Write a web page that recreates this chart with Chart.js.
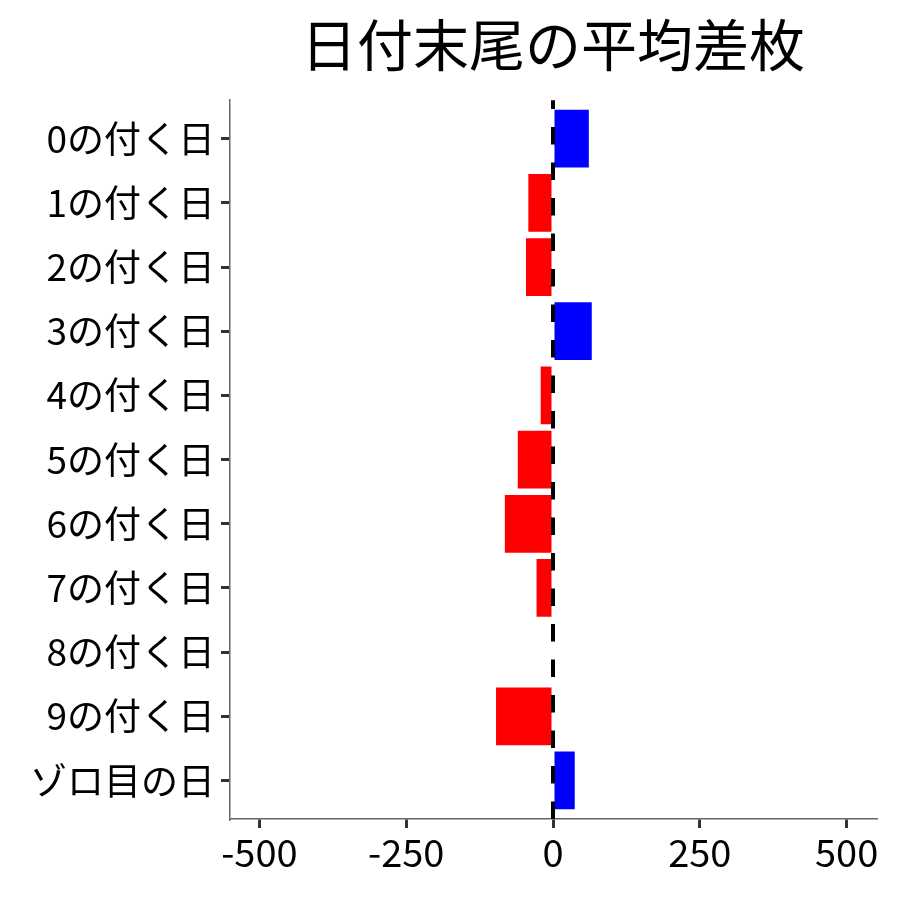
<!DOCTYPE html>
<html>
<head>
<meta charset="utf-8">
<script src="https://cdn.jsdelivr.net/npm/chart.js@4/dist/chart.umd.min.js"></script>
<style>
  html, body { margin: 0; padding: 0; background: #fff; }
  #wrap { width: 900px; height: 900px; }
</style>
</head>
<body>
<div id="wrap"><canvas id="chart" width="900" height="900"></canvas></div>
<script>
// 日付末尾ごとの平均差枚
const days = ["0の付く日", "1の付く日", "2の付く日", "3の付く日", "4の付く日",
              "5の付く日", "6の付く日", "7の付く日", "8の付く日", "9の付く日", "ゾロ目の日"];
const avgDiff = [61, -42, -46, 66, -21, -60, -82, -28, 0, -97, 37];
const xTicks = [-500, -250, 0, 250, 500];

const FONT = "'Noto Sans CJK JP', 'Noto Sans', sans-serif";

// 0 の位置に点線 (棒の上に描く)
const zeroLine = {
  id: "zeroLine",
  afterDatasetsDraw(chart) {
    const { ctx, chartArea, scales } = chart;
    const x = scales.x.getPixelForValue(0);
    ctx.save();
    ctx.strokeStyle = "#000";
    ctx.lineWidth = 4;
    ctx.setLineDash([17.5, 18]);
    ctx.beginPath();
    ctx.moveTo(x, chartArea.bottom);
    ctx.lineTo(x, chartArea.top);
    ctx.stroke();
    ctx.restore();
  }
};

new Chart(document.getElementById("chart"), {
  type: "bar",
  data: {
    datasets: [{
      data: avgDiff.map((v, i) => ({ x: v, y: i })),
      backgroundColor: avgDiff.map(v => v < 0 ? "#ff0000" : "#0000ff"),
      borderWidth: 0,
      barPercentage: 0.9,
      categoryPercentage: 1
    }]
  },
  options: {
    indexAxis: "y",
    responsive: false,
    animation: false,
    devicePixelRatio: 1,
    layout: { padding: { left: 0, right: 24, top: 0, bottom: 0 } },
    plugins: {
      legend: { display: false },
      tooltip: { enabled: false },
      title: {
        display: true,
        text: "日付末尾の平均差枚",
        color: "#000",
        fullSize: false,
        font: { family: FONT, size: 56, weight: "normal", lineHeight: 1.2 },
        padding: { top: 11, bottom: 22 }
      }
    },
    scales: {
      x: {
        type: "linear",
        min: -550,
        max: 550,
        afterBuildTicks: s => { s.ticks = xTicks.map(v => ({ value: v })); },
        afterFit: s => { s.height = 81; },
        grid: { drawOnChartArea: false, drawTicks: true, tickLength: 9, lineWidth: 3, color: "#333" },
        border: { display: true, color: "#666", width: 1.5 },
        ticks: { color: "#000", padding: 2, font: { family: FONT, size: 38 } }
      },
      y: {
        type: "linear",
        reverse: true,
        offset: false,
        min: -0.6,
        max: 10.6,
        afterBuildTicks: s => { s.ticks = days.map((d, i) => ({ value: i })); },
        afterFit: s => { s.width = 230; },
        grid: { offset: false, drawOnChartArea: false, drawTicks: true, tickLength: 9, lineWidth: 3, color: "#333" },
        border: { display: true, color: "#666", width: 1.5 },
        ticks: {
          color: "#000",
          padding: 6,
          font: { family: FONT, size: 37 },
          callback: v => days[v] ?? ""
        }
      }
    }
  },
  plugins: [zeroLine]
});
</script>
</body>
</html>
